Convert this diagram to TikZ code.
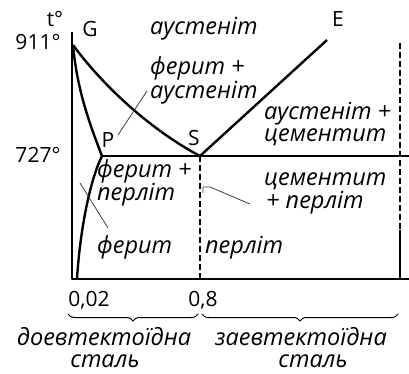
\documentclass[tikz,border=0pt]{standalone}
\usepackage{fontspec}
\setmainfont{Open Sans}
\usetikzlibrary{decorations.pathreplacing}

\begin{document}
\begin{tikzpicture}[
  x=1pt,
  y=-1pt,
  boundary/.style={line width=2.4pt, line join=round},
  dashline/.style={line width=2pt, dash pattern=on 6pt off 3pt},
  leader/.style={line width=0.8pt, color=black!75},
  bracebar/.style={line width=1pt, decorate,
    decoration={brace, mirror, amplitude=7pt}},
  txt/.style={font=\fontsize{21}{23}\selectfont, inner sep=0pt},
  phase/.style={txt, font=\fontsize{23.5}{25}\selectfont\itshape,
    anchor=base west}
]
  \useasboundingbox (0,0) rectangle (409,374);

  % key points of the diagram
  \coordinate (G) at (73,45);
  \coordinate (P) at (102,156);
  \coordinate (S) at (200,156);
  \coordinate (E) at (327,40);
  \coordinate (axtop) at (72,32);
  \coordinate (origin) at (72,279);
  \coordinate (axend) at (409,279);
  \coordinate (eutend) at (409,156);
  \coordinate (c002) at (77,279);
  \coordinate (c08) at (200,279);
  \coordinate (rtop) at (400,43);
  \coordinate (rmid) at (400,230);
  \coordinate (rbot) at (400,279);

  % phase boundaries
  \draw[boundary] (axtop) -- (origin) -- (axend);
  \draw[boundary] (G) .. controls (110,95) and (160,135) .. (S);
  \draw[boundary] (G) .. controls (77,90) and (90,125) .. (P);
  \draw[boundary] (P) .. controls (90,180) and (80,230) .. (c002);
  \draw[boundary] (P) -- (eutend);
  \draw[boundary] (S) -- (E);
  \draw[dashline] (S) -- (c08);
  \draw[dashline] (rtop) -- (rmid);
  \draw[boundary] (rmid) -- (rbot);

  % axis labels
  \node[txt, anchor=base] (tdeg) at (55,27) {t°};
  \node[txt, anchor=base] (t911) at (38,50) {911°};
  \node[txt, anchor=base] (t727) at (38,163) {727°};
  \node[txt, anchor=base] (x002) at (89,306) {0,02};
  \node[txt, anchor=base] (x08) at (203,306) {0,8};

  % point labels
  \node[txt, anchor=base] (lG) at (90,37) {G};
  \node[txt, anchor=base] (lP) at (108,148) {P};
  \node[txt, anchor=base] (lS) at (194,146) {S};
  \node[txt, anchor=base] (lE) at (338,27) {E};

  % phase regions
  \node[phase] (aus) at (150,35) {аустеніт};
  \node[phase] (feraus1) at (150,75) {ферит +};
  \node[phase] (feraus2) at (150,99) {аустеніт};
  \node[phase] (auscem1) at (264,120) {аустеніт +};
  \node[phase] (auscem2) at (264,142) {цементит};
  \node[phase] (ferper1) at (97,177) {ферит +};
  \node[phase] (ferper2) at (97,200) {перліт};
  \node[phase] (fer) at (97,253) {ферит};
  \node[phase] (cemper1) at (264,185) {цементит};
  \node[phase] (cemper2) at (266,208) {+ перліт};
  \node[phase] (per) at (205,253) {перліт};

  % leaders
  \coordinate (la) at (147,91);
  \coordinate (lb) at (118,135);
  \draw[leader] (la) -- (lb);
  \coordinate (lc) at (80,183);
  \coordinate (ld) at (108,228);
  \draw[leader] (lc) -- (ld);
  \coordinate (le) at (203,193);
  \coordinate (lf) at (250,204);
  \draw[leader] (le) -- ++(0,-6) -- ++(7,0) -- (lf);

  % steel classes
  \coordinate (b1) at (68,314);
  \coordinate (b2) at (198,314);
  \coordinate (b3) at (202,314);
  \coordinate (b4) at (398,314);
  \draw[bracebar] (b1) -- (b2);
  \draw[bracebar] (b3) -- (b4);
  \node[phase, anchor=base] (hypo1) at (104,345) {доевтектоїдна};
  \node[phase, anchor=base, text height=13pt] (hypo2) at (105,367) {сталь};
  \node[phase, anchor=base] (hyper1) at (301,345) {заевтектоїдна};
  \node[phase, anchor=base, text height=13pt] (hyper2) at (313,367) {сталь};
\end{tikzpicture}
\end{document}
